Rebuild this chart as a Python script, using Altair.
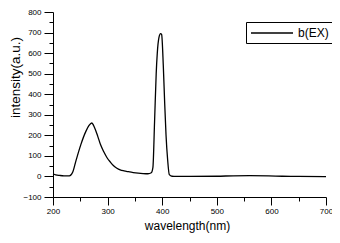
import altair as alt
import pandas as pd

wavelength = [200, 205, 212, 220, 230, 236, 242, 251, 260, 266, 271, 276, 282, 287, 293, 299,
              305, 311, 317, 323, 330, 338, 347, 356, 365, 374, 380, 383, 386, 389, 391, 394,
              397, 399, 402, 404.5, 407, 410, 413, 418, 425, 450, 500, 530, 560, 595, 620, 650, 700]
intensity = [13, 8, 5, 3, 3, 20, 76, 155, 218, 248, 260, 238, 195, 155, 120, 91,
             70, 52, 40, 32, 27, 23, 19, 16, 14, 13, 18, 44, 265, 500, 600, 675,
             695, 690, 540, 360, 202, 80, 9, 1, 0, 0, 1, 3, 4, 3, 1, 0, -1]
series = ["b(EX)"] * len(wavelength)

df = pd.DataFrame({"wl": wavelength, "val": intensity, "series": series})

FONT = "Liberation Sans"

chart = alt.Chart(df).mark_line(color="black", strokeWidth=1.3, interpolate="monotone").encode(
    x=alt.X("wl:Q",
            scale=alt.Scale(domain=[200, 700], nice=False, zero=False),
            axis=alt.Axis(values=list(range(200, 701, 50)),
                          labelExpr="datum.value % 100 === 0 ? datum.label : ''",
                          format="d",
                          tickSize={"condition": {"test": "datum.value % 100 === 0", "value": 8}, "value": 4},
                          grid=False, title="wavelength(nm)", titleFontSize=12, titleFont=FONT,
                          titleFontWeight="normal", titleColor="black",
                          labelFont=FONT, labelFontSize=8, labelColor="black", labelPadding=2,
                          labelOverlap=False, labelFlush=False,
                          domainColor="black", tickColor="black", domainWidth=1, tickWidth=1,
                          titleX=134, titleY=28, titleBaseline="middle")),
    y=alt.Y("val:Q",
            scale=alt.Scale(domain=[-100, 800], nice=False, zero=False),
            axis=alt.Axis(values=list(range(-100, 801, 50)),
                          labelExpr="datum.value % 100 === 0 ? datum.label : ''",
                          format="d",
                          tickSize={"condition": {"test": "datum.value % 100 === 0", "value": 9}, "value": 4},
                          grid=False, title="intensity(a.u.)", titleFontSize=13.5, titleFont=FONT,
                          titleFontWeight="normal", titleColor="black",
                          labelFont=FONT, labelFontSize=8, labelColor="black", labelPadding=3,
                          labelOverlap=False, labelFlush=False,
                          domainColor="black", tickColor="black", domainWidth=1, tickWidth=1,
                          titleX=-38, titleY=65, titleBaseline="middle")),
    color=alt.Color("series:N", scale=alt.Scale(range=["black"]),
                    legend=alt.Legend(title=None, orient="none", legendX=193, legendY=10,
                                      symbolType="M-1,0L6,0", symbolSize=144, symbolStrokeWidth=1.3,
                                      symbolStrokeColor="black", labelOffset=34,
                                      strokeColor="black", fillColor="white", padding=4,
                                      labelFontSize=12, labelFont=FONT, labelColor="black")),
).properties(
    width=273, height=185,
    autosize=alt.AutoSizeParams(type="none"),
    padding={"left": 45, "top": 4, "right": 6, "bottom": 37},
    background="white",
).configure_view(stroke=None)

chart.save("out.html", embed_options={"renderer": "svg", "actions": False})
